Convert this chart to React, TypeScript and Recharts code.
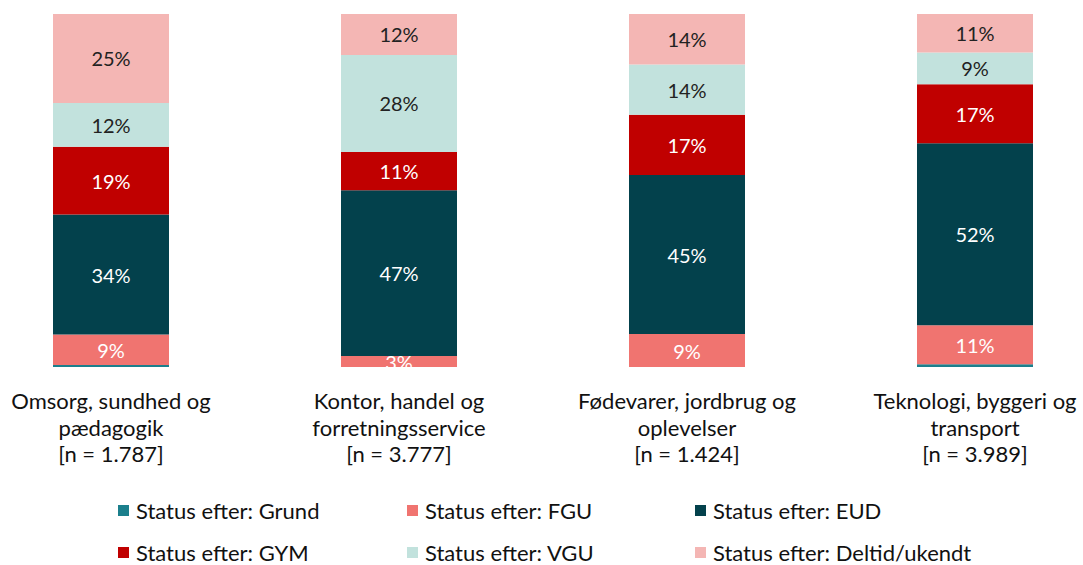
import React from 'react';
import { BarChart, Bar, XAxis, YAxis, LabelList } from 'recharts';

const categories = [
  ['Omsorg, sundhed og', 'pædagogik'],
  ['Kontor, handel og', 'forretningsservice'],
  ['Fødevarer, jordbrug og', 'oplevelser'],
  ['Teknologi, byggeri og', 'transport'],
];
const counts = ['1.787', '3.777', '1.424', '3.989'];

const grund = [0.6, 0, 0, 0.8];
const fgu = [8.6, 3.1, 9.3, 11];
const eud = [34, 47, 45, 51.6];
const gym = [19.2, 10.8, 17, 16.7];
const vgu = [12.4, 27.5, 14.2, 9];
const deltid = [25.2, 11.6, 14.3, 10.9];

const series = [
  { key: 'grund', name: 'Status efter: Grund', values: grund, color: '#1B7F8C', text: null },
  { key: 'fgu', name: 'Status efter: FGU', values: fgu, color: '#F07470', text: '#ffffff' },
  { key: 'eud', name: 'Status efter: EUD', values: eud, color: '#03414C', text: '#ffffff' },
  { key: 'gym', name: 'Status efter: GYM', values: gym, color: '#C00000', text: '#ffffff' },
  { key: 'vgu', name: 'Status efter: VGU', values: vgu, color: '#C2E2DD', text: '#222222' },
  { key: 'deltid', name: 'Status efter: Deltid/ukendt', values: deltid, color: '#F4B6B4', text: '#222222' },
];

const data = categories.map((lines, i) => {
  const row: any = { name: lines.join(' '), lines, n: counts[i] };
  series.forEach((s) => {
    row[s.key] = s.values[i];
  });
  return row;
});

const FONT = 'Lato, "Open Sans", sans-serif';

const CategoryTick = (props: any) => {
  const { x, y, payload } = props;
  const row = data[payload.index];
  return (
    <text x={x} textAnchor="middle" fontFamily={FONT} fontSize={22} fill="#111">
      <tspan x={x} y={y + 34}>{row.lines[0]}</tspan>
      <tspan x={x} y={y + 61}>{row.lines[1]}</tspan>
      <tspan x={x} y={y + 87}>{`[n = ${row.n}]`}</tspan>
    </text>
  );
};

const makeLabel = (color: string) => (props: any) => {
  const { x, y, width, height, value } = props;
  if (!value) return null;
  return (
    <text
      x={x + width / 2}
      y={y + height / 2}
      textAnchor="middle"
      dominantBaseline="central"
      fontFamily={FONT}
      fontSize={20}
      fill={color}
    >
      {`${Math.round(value)}%`}
    </text>
  );
};

const legendCols = [118, 407, 695];
const legendRows = [510, 552];

export default function App() {
  return (
    <div style={{ position: 'absolute', left: 0, top: 0, width: 1083, height: 565, overflow: 'hidden', background: '#fff' }}>
      <div style={{ position: 'absolute', left: -33, top: 0 }}>
        <BarChart
          width={1152}
          height={565}
          data={data}
          stackOffset="expand"
          margin={{ top: 14, right: 0, left: 0, bottom: 0 }}
        >
          <XAxis dataKey="name" height={198} axisLine={false} tickLine={false} interval={0} tick={<CategoryTick />} />
          <YAxis hide domain={[0, 1]} />
          {series.map((s) => (
            <Bar key={s.key} dataKey={s.key} name={s.name} stackId="a" fill={s.color} barSize={116} isAnimationActive={false}>
              {s.text && <LabelList dataKey={s.key} content={makeLabel(s.text)} />}
            </Bar>
          ))}
        </BarChart>
      </div>
      {series.map((s, i) => (
        <div
          key={s.key}
          style={{
            position: 'absolute',
            left: legendCols[i % 3],
            top: legendRows[Math.floor(i / 3)] - 14,
            height: 28,
            display: 'flex',
            alignItems: 'center',
            fontFamily: FONT,
            fontSize: 22,
            color: '#111',
            whiteSpace: 'nowrap',
          }}
        >
          <span style={{ display: 'inline-block', width: 11, height: 11, background: s.color, marginRight: 7 }} />
          {s.name}
        </div>
      ))}
    </div>
  );
}
